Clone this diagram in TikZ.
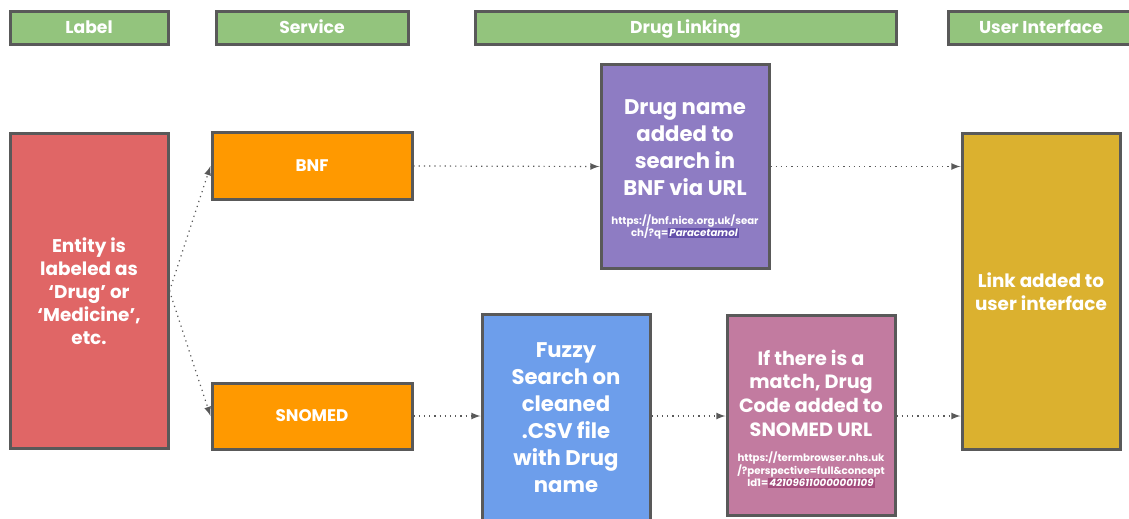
\documentclass[tikz,border=0pt]{standalone}
\usepackage{fontspec}
\setmainfont{Poppins}
\usetikzlibrary{arrows,positioning}

\definecolor{hdrgreen}{HTML}{93C47D}
\definecolor{entred}{HTML}{E06666}
\definecolor{svcorange}{HTML}{FF9900}
\definecolor{bnfpurple}{HTML}{8E7CC3}
\definecolor{bnfdark}{HTML}{6450AA}
\definecolor{fuzzyblue}{HTML}{6D9EEB}
\definecolor{snopink}{HTML}{C27BA0}
\definecolor{snodark}{HTML}{A34C7C}
\definecolor{uiyellow}{HTML}{DBB12F}
\definecolor{edgegray}{HTML}{595959}

\tikzset{
  box/.style={draw=edgegray, line width=1.5pt, text=white, font=\bfseries,
    align=center, inner sep=0pt},
  hdr/.style={box, fill=hdrgreen, minimum height=16.5pt, text height=6.6pt, text depth=1.2pt,
    font=\bfseries\fontsize{8.6}{10}\selectfont},
  svc/.style={box, fill=svcorange, minimum width=100pt, minimum height=33pt,
    text height=6pt, text depth=1pt, font=\bfseries\fontsize{8.4}{10}\selectfont},
  stepbody/.style={text=white, align=center, inner sep=0pt},
  urlbody/.style={text=white, align=center, inner sep=0pt, font=\bfseries\fontsize{5.1}{6.3}\selectfont},
  flow/.style={->, >=latex, dotted, edgegray, line width=0.6pt},
}
\newcommand{\hilite}[2]{{\fboxsep=0.6pt\colorbox{#1}{\itshape #2}}}

\begin{document}
\begin{tikzpicture}[x=0.5pt, y=-0.5pt]
  \useasboundingbox (0,0) rectangle (1129,519);

  % column headers
  \node[hdr, minimum width=79pt] (hlabel) at (89,28.5) {Label};
  \node[hdr, minimum width=96pt] (hservice) at (312,28.5) {Service};
  \node[hdr, minimum width=210.5pt] (hlink) at (685.5,28.5) {Drug Linking};
  \node[hdr, minimum width=93pt] (hui) at (1041,28.5) {User Interface};

  % label and services
  \node[box, fill=entred, minimum width=79pt, minimum height=157pt,
    font=\bfseries\fontsize{9.2}{11.5}\selectfont] (entity) at (89,291)
    {Entity is\\labeled as\\‘Drug’ or\\‘Medicine’,\\etc.};
  \node[svc] (bnf) at (312,166) {BNF};
  \node[svc] (snomed) at (312,416) {SNOMED};

  % linking steps
  \node[box, fill=bnfpurple, minimum width=84pt, minimum height=101.5pt] (search) at (685,166.5) {};
  \node[stepbody, font=\bfseries\fontsize{10.6}{13.5}\selectfont] (searchtext) at (685,148)
    {Drug name\\added to\\search in\\BNF via URL};
  \node[urlbody] (searchurl) at (685,227)
    {https://bnf.nice.org.uk/sear\\ch/?q=\hilite{bnfdark}{Paracetamol}};

  \node[box, fill=fuzzyblue, minimum width=84pt, minimum height=104pt,
    font=\bfseries\fontsize{10.6}{13.5}\selectfont] (fuzzy) at (566,418)
    {Fuzzy\\Search on\\cleaned\\.CSV file\\with Drug\\name};

  \node[box, fill=snopink, minimum width=84pt, minimum height=100pt] (match) at (811,415) {};
  \node[stepbody, font=\bfseries\fontsize{9.6}{11.8}\selectfont] (matchtext) at (811,393)
    {If there is a\\match, Drug\\Code added to\\SNOMED URL};
  \node[urlbody] (matchurl) at (811,470)
    {https://termbrowser.nhs.uk\\/?perspective=full\&concept\\Id1=\hilite{snodark}{421096110000001109}};

  % user interface
  \node[box, fill=uiyellow, minimum width=79pt, minimum height=157.5pt,
    font=\bfseries\fontsize{9.2}{11.5}\selectfont] (ui) at (1041,291.5)
    {Link added to\\user interface};

  % connectors
  \draw[flow] (entity.east) -- (bnf.west);
  \draw[flow] (entity.east) -- (snomed.west);
  \draw[flow] (bnf.east) -- (search.west);
  \draw[flow] (search.east) -- (ui.west |- search.east);
  \draw[flow] (snomed.east) -- (fuzzy.west |- snomed.east);
  \draw[flow] (fuzzy.east |- snomed.east) -- (match.west |- snomed.east);
  \draw[flow] (match.east |- snomed.east) -- (ui.west |- snomed.east);
\end{tikzpicture}
\end{document}
